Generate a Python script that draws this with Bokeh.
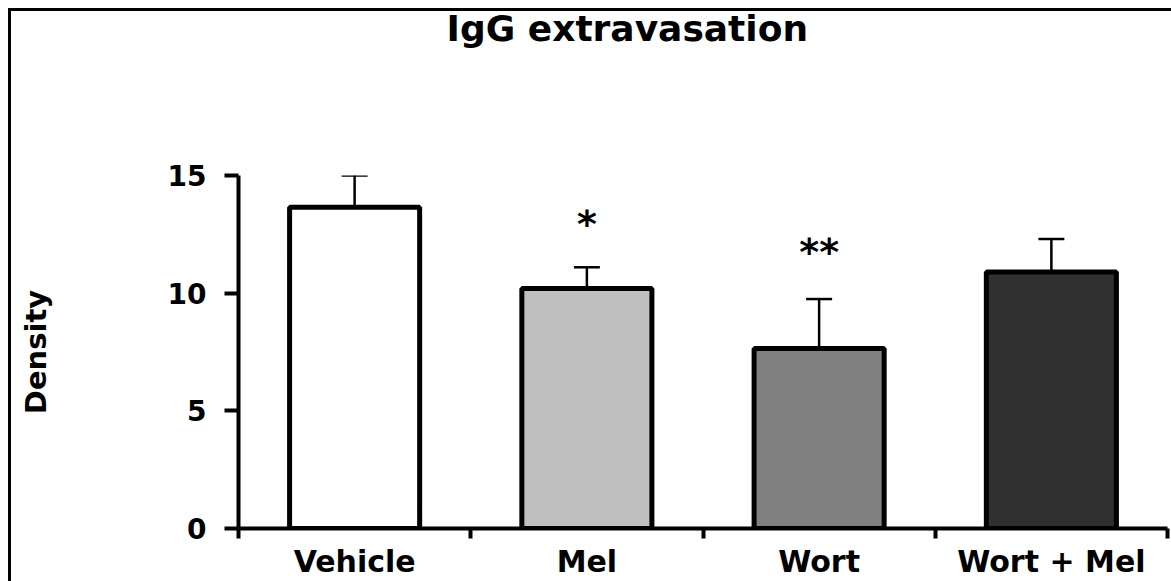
from bokeh.plotting import figure
from bokeh.models import FixedTicker, Range1d, ColumnDataSource, Whisker, TeeHead, InlineStyleSheet, Title
from bokeh.embed import file_html
from bokeh.resources import INLINE
from bokeh.core.properties import value

title = "IgG extravasation"
categories = ["Vehicle", "Mel", "Wort", "Wort + Mel"]
means = [13.65, 10.2, 7.65, 10.9]
sems = [1.35, 0.9, 2.1, 1.4]
colors = ["#ffffff", "#c0c0c0", "#808080", "#303030"]
sig_labels = ["", "*", "**", ""]
sig_y = [0, 12.95, 11.75, 0]
y_ticks = [0, 5, 10, 15]
y_label = "Density"

xs = list(range(1, len(categories) + 1))
uppers = [m + s for m, s in zip(means, sems)]
src = ColumnDataSource(dict(x=xs, top=means, upper=uppers, color=colors,
                            sig=sig_labels, sig_y=sig_y))

FONT = "DejaVu Sans"

p = figure(width=1171, height=581, output_backend="svg", toolbar_location=None,
           x_range=Range1d(0.5, len(categories) + 0.5), y_range=Range1d(0, 15),
           min_border_left=238, min_border_right=4, min_border_top=175, min_border_bottom=49)

p.title.text = title
p.title.align = "left"
p.title.offset = 208
p.title.standoff = 6
p.title.text_font = FONT
p.title.text_font_style = "bold"
p.title.text_font_size = "36px"
p.title.text_color = "black"

# empty spacer between the title and the plotting area
p.add_layout(Title(text=" ", text_font_size="1px", standoff=121), "above")

p.vbar(x="x", top="top", width=0.56, source=src, fill_color="color",
       line_color="black", line_width=5)

w = Whisker(source=src, base="x", lower="top", upper="upper", line_width=2.5,
            line_color="black", lower_head=None,
            upper_head=TeeHead(size=26, line_width=2.5, line_color="black"))
p.add_layout(w)

p.text(x="x", y="sig_y", text="sig", source=src, text_align="center",
       text_baseline="middle", text_font=value(FONT), text_font_style="bold",
       text_font_size="38px", text_color="black")

p.xgrid.visible = False
p.ygrid.visible = False
p.outline_line_color = None

xa = p.xaxis[0]
xa.ticker = FixedTicker(ticks=xs, minor_ticks=[x - 0.5 for x in xs] + [xs[-1] + 0.5])
xa.major_label_overrides = {x: c for x, c in zip(xs, categories)}
xa.major_tick_line_color = None
xa.major_tick_out = 10
xa.major_tick_in = 0
xa.minor_tick_line_color = "black"
xa.minor_tick_line_width = 4
xa.minor_tick_out = 10
xa.minor_tick_in = 0
xa.axis_line_width = 4
xa.axis_line_color = "black"
xa.major_label_standoff = 5
xa.major_label_text_font = FONT
xa.major_label_text_font_style = "bold"
xa.major_label_text_font_size = "30px"
xa.major_label_text_color = "black"

ya = p.yaxis[0]
ya.ticker = FixedTicker(ticks=y_ticks, minor_ticks=[])
ya.major_tick_out = 14
ya.major_tick_in = 0
ya.major_tick_line_width = 4
ya.major_tick_line_color = "black"
ya.axis_line_width = 4
ya.axis_line_color = "black"
ya.major_label_standoff = 18
ya.major_label_text_font = FONT
ya.major_label_text_font_style = "bold"
ya.major_label_text_font_size = "28px"
ya.major_label_text_color = "black"
ya.axis_label = y_label
ya.axis_label_standoff = 112
ya.axis_label_text_font = FONT
ya.axis_label_text_font_style = "bold"
ya.axis_label_text_font_size = "29px"
ya.axis_label_text_color = "black"

p.stylesheets = [InlineStyleSheet(css=":host::after { content: ''; position: absolute; left: 8px; top: 8px; right: 0px; bottom: 0px; border-left: 3px solid #000; border-top: 3px solid #000; pointer-events: none; z-index: 10; }")]

open("out.html", "w").write(file_html(p, INLINE))
